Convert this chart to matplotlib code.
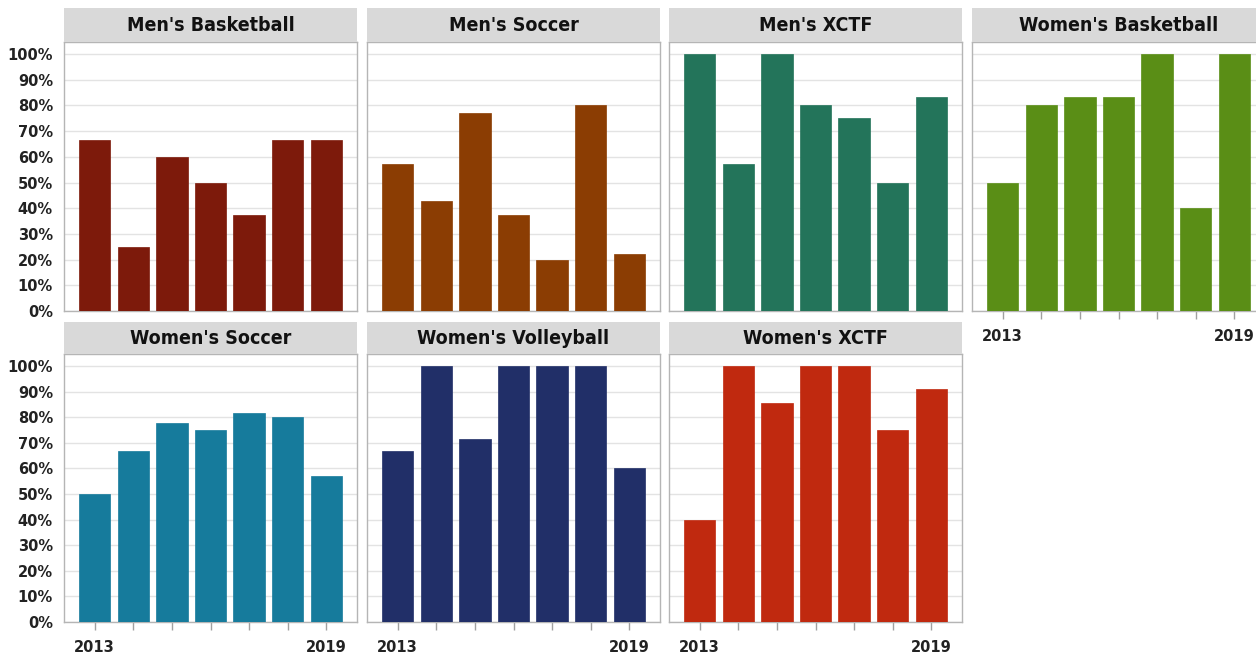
import matplotlib
matplotlib.use("Agg")
import matplotlib.pyplot as plt
from matplotlib.patches import Rectangle
from matplotlib import font_manager

years = [2013, 2014, 2015, 2016, 2017, 2018, 2019]
sports = ["Men's Basketball", "Men's Soccer", "Men's XCTF", "Women's Basketball",
          "Women's Soccer", "Women's Volleyball", "Women's XCTF"]
mens_basketball = [0.667, 0.25, 0.60, 0.50, 0.375, 0.667, 0.667]
mens_soccer = [0.571, 0.429, 0.769, 0.375, 0.20, 0.80, 0.222]
mens_xctf = [1.00, 0.571, 1.00, 0.80, 0.75, 0.50, 0.833]
womens_basketball = [0.50, 0.80, 0.833, 0.833, 1.00, 0.40, 1.00]
womens_soccer = [0.50, 0.667, 0.778, 0.75, 0.818, 0.80, 0.571]
womens_volleyball = [0.667, 1.00, 0.714, 1.00, 1.00, 1.00, 0.60]
womens_xctf = [0.40, 1.00, 0.857, 1.00, 1.00, 0.75, 0.909]
colors = ["#7d1a0b", "#8b3d03", "#23745a", "#5a8e16", "#167b9c", "#212f68", "#c0290f"]
ytick_labels = ["0%", "10%", "20%", "30%", "40%", "50%", "60%", "70%", "80%", "90%", "100%"]

values = [mens_basketball, mens_soccer, mens_xctf, womens_basketball,
          womens_soccer, womens_volleyball, womens_xctf]

fonts = font_manager.fontManager.ttflist
names = {f.name for f in fonts}
condensed = [f for f in fonts if f.name == "DejaVu Sans" and f.stretch in ("condensed", 'semi-condensed')
             and f.weight in ("bold", 700)]
if "Liberation Sans Narrow" in names:
    title_fp = dict(fontfamily="Liberation Sans Narrow", fontweight="bold", fontsize=15.5)
elif condensed:
    title_fp = dict(fontproperties=font_manager.FontProperties(fname=condensed[0].fname, size=14))
else:
    title_fp = dict(fontfamily="DejaVu Sans", fontweight="bold", fontsize=13, fontstretch="condensed")
tick_font = "DejaVu Sans"

W, H = 1256, 661
fig = plt.figure(figsize=(W / 100, H / 100), dpi=100)

col_left = [64, 367, 669, 972]
panel_w = 293
rows = [(8, 42, 311), (322, 354, 622)]  # header top, axes top, axes bottom

for i, (name, vals, col) in enumerate(zip(sports, values, colors)):
    r, c = divmod(i, 4)
    htop, atop, abot = rows[r]
    x0 = col_left[c]
    ax = fig.add_axes([x0 / W, 1 - abot / H, panel_w / W, (abot - atop) / H])
    xs = list(range(len(years)))
    ax.bar(xs, vals, width=0.81, color=col, edgecolor=col, linewidth=0.5, zorder=3)
    ax.set_xlim(-0.79, 6.79)
    ax.set_ylim(0, 1.047)
    ax.set_yticks([k / 10 for k in range(11)])
    ax.yaxis.grid(True, color="#e3e3e3", linewidth=1.0, zorder=0)
    ax.set_axisbelow(True)
    for s in ax.spines.values():
        s.set_color("#b5b5b5")
        s.set_linewidth(1.0)
    if c == 0:
        ax.set_yticklabels(ytick_labels, fontfamily=tick_font, fontweight="bold",
                           fontsize=10.5, color="#222222")
        ax.tick_params(axis="y", length=0, pad=8)
    else:
        ax.set_yticklabels([])
        ax.tick_params(axis="y", length=0)
    ax.set_xticks(xs)
    show_x = (r == 1) or (c == 3)
    if show_x:
        ax.set_xticklabels(["2013", "", "", "", "", "", "2019"], fontfamily=tick_font,
                           fontweight="bold", fontsize=10.5, color="#222222")
        ax.tick_params(axis="x", length=6, width=1, color="#a0a0a0", pad=7)
    else:
        ax.set_xticklabels([])
        ax.tick_params(axis="x", length=0)
    # header strip
    hax = fig.add_axes([x0 / W, 1 - atop / H, panel_w / W, (atop - htop) / H])
    hax.set_xlim(0, 1)
    hax.set_ylim(0, 1)
    hax.add_patch(Rectangle((0, 0), 1, 1, facecolor="#d9d9d9", edgecolor="none"))
    hax.axis("off")
    hax.text(0.5, 0.48, name, ha="center", va="center", color="#111111", **title_fp)

fig.savefig("out.png", dpi=100, facecolor="white")
